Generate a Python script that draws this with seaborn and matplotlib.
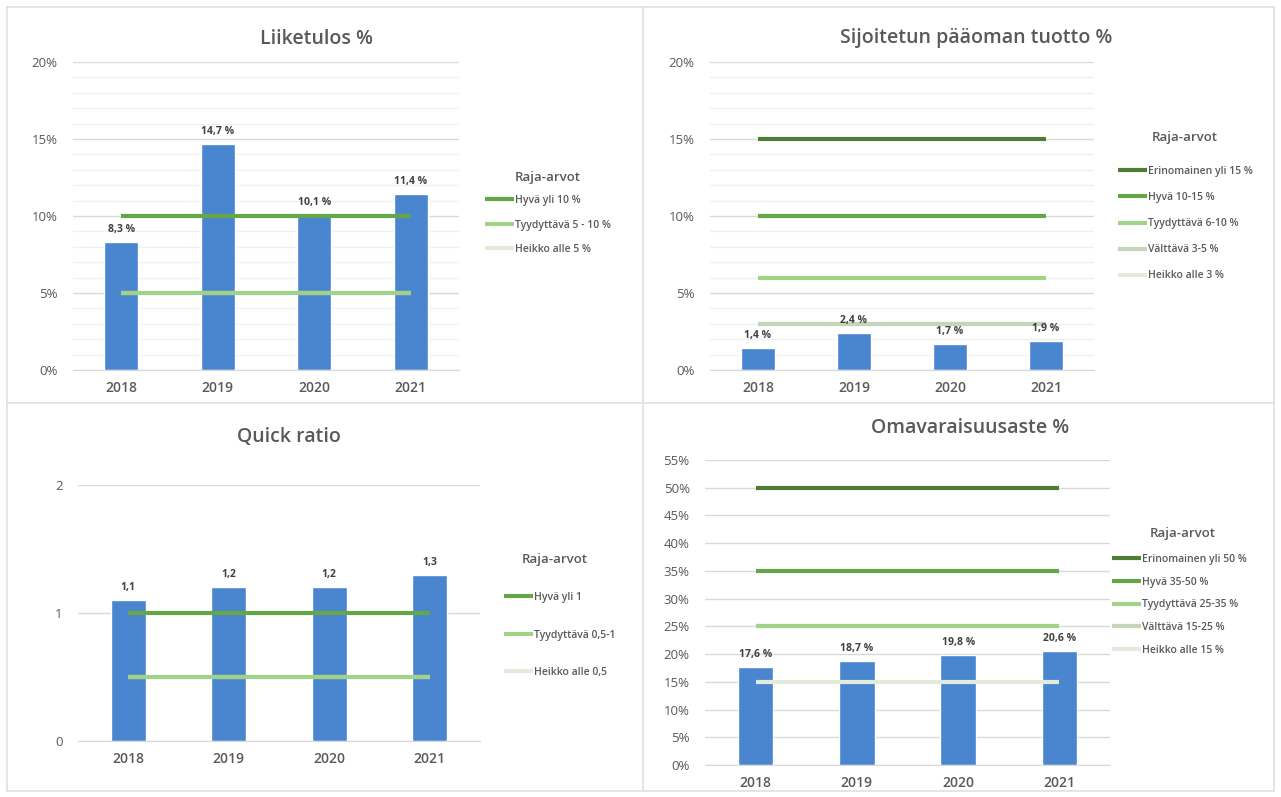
import numpy as np
import pandas as pd
import matplotlib
matplotlib.use('Agg')
from matplotlib import pyplot as plt
from matplotlib.ticker import MultipleLocator, FixedLocator, FuncFormatter
import seaborn as sns

sns.set_style('white')
plt.rcParams['font.family'] = ['Open Sans', 'DejaVu Sans']

# data
years = ['2018', '2019', '2020', '2021']
liiketulos = [8.3, 14.7, 10.1, 11.4]
sijoitettu = [1.4, 2.4, 1.7, 1.9]
quick_ratio = [1.1, 1.2, 1.2, 1.3]
omavaraisuus = [17.6, 18.7, 19.8, 20.6]

# threshold lines (raja-arvot)
liike_labels = ['Hyvä yli 10 %', 'Tyydyttävä 5 - 10 %', 'Heikko alle 5 %']
liike_levels = [10, 5, 5]
sijoit_labels = ['Erinomainen yli 15 %', 'Hyvä 10-15 %', 'Tyydyttävä 6-10 %', 'Välttävä 3-5 %', 'Heikko alle 3 %']
sijoit_levels = [15, 10, 6, 3, 3]
quick_labels = ['Hyvä yli 1', 'Tyydyttävä 0,5-1', 'Heikko alle 0,5']
quick_levels = [1, 0.5, 0.5]
omav_labels = ['Erinomainen yli 50 %', 'Hyvä 35-50 %', 'Tyydyttävä 25-35 %', 'Välttävä 15-25 %', 'Heikko alle 15 %']
omav_levels = [50, 35, 25, 25, 15]

level_colors = {'Erinomainen': '#507d35', 'Hyvä': '#65a647', 'Tyydyttävä': '#a2d287',
                'Välttävä': '#c5d5b9', 'Heikko': '#e3ebdd'}
bar_color = '#4a86cf'
text_gray = '#595959'
grid_gray = '#d9d9d9'

W, H = 1281, 797
fig = plt.figure(figsize=(W / 100, H / 100), dpi=100)


def box(l, t, r, b):
    return [l / W, 1 - b / H, (r - l) / W, (b - t) / H]


def draw_panel(rect, values, labels, levels, title, title_xy, ymax, ystep,
               pct, minor, leg_title_xy, leg_xy, leg_space):
    ax = fig.add_axes(box(*rect))
    sns.barplot(x=years, y=values, color=bar_color, saturation=1, width=0.35,
                ax=ax, zorder=2)
    n = len(years)
    # later series first so the top entries sit above
    for lab, lev in reversed(list(zip(labels, levels))):
        ax.hlines(lev, 0, n - 1, colors=level_colors[lab.split()[0]],
                  linewidth=3, label=lab, zorder=3)
    for i, v in enumerate(values):
        txt = f'{v:.1f}'.replace('.', ',') + (' %' if pct else '')
        ax.annotate(txt, (i, v), xytext=(0, 5), textcoords='offset points',
                    ha='center', va='bottom', fontsize=7.5, fontweight='bold',
                    color='#404040')
    ax.set_ylim(0, ymax)
    ax.set_xlim(-0.5, n - 0.5)
    ax.yaxis.set_major_locator(MultipleLocator(ystep))
    if pct:
        ax.yaxis.set_major_formatter(FuncFormatter(lambda v, p: f'{v:.0f}%'))
    else:
        ax.yaxis.set_major_formatter(FuncFormatter(lambda v, p: f'{v:.0f}'))
    ax.grid(axis='y', which='major', color=grid_gray, linewidth=1)
    if minor:
        ax.yaxis.set_minor_locator(MultipleLocator(1))
        ax.grid(axis='y', which='minor', color='#f0f0f0', linewidth=1)
    ax.set_axisbelow(True)
    ax.xaxis.set_minor_locator(FixedLocator(np.arange(-0.5, n, 1)))
    ax.tick_params(axis='x', which='major', length=0, pad=8, labelsize=10,
                   labelcolor=text_gray)
    ax.tick_params(axis='x', which='minor', length=4, color=grid_gray)
    ax.tick_params(axis='y', which='both', length=0, pad=11, labelsize=9.5,
                   labelcolor=text_gray)
    for lbl in ax.get_xticklabels():
        lbl.set_fontweight('semibold')
    ax.set_xlabel('')
    ax.set_ylabel('')
    for s in ['top', 'right', 'left']:
        ax.spines[s].set_visible(False)
    ax.spines['bottom'].set_color(grid_gray)
    fig.text(title_xy[0] / W, 1 - title_xy[1] / H, title, ha='center',
             va='center', fontsize=14, fontweight='semibold', color=text_gray)
    fig.text(leg_title_xy[0] / W, 1 - leg_title_xy[1] / H, 'Raja-arvot',
             ha='center', va='center', fontsize=9.5, fontweight='semibold',
             color=text_gray)
    handles, hlabels = ax.get_legend_handles_labels()
    order = [hlabels.index(l) for l in labels]
    leg = ax.legend([handles[i] for i in order], [hlabels[i] for i in order],
                    loc='upper left',
                    bbox_to_anchor=(leg_xy[0] / W, 1 - (leg_xy[1] - 6) / H),
                    bbox_transform=fig.transFigure, frameon=False, fontsize=7.5,
                    borderpad=0, borderaxespad=0,
                    handlelength=2.8, handletextpad=0.05,
                    labelspacing=leg_space)
    for t in leg.get_texts():
        t.set_color(text_gray)
        t.set_fontweight('semibold')
    return ax


draw_panel((73, 62, 459, 370), liiketulos, liike_labels, liike_levels,
           'Liiketulos %', (316, 39), 20, 5, True, True,
           (548, 177), (485, 201), 1.3)
draw_panel((710, 62, 1094, 370), sijoitettu, sijoit_labels, sijoit_levels,
           'Sijoitetun pääoman tuotto %', (976, 38), 20, 5, True, True,
           (1185, 138), (1118, 172), 1.45)
draw_panel((78, 485, 480, 741), quick_ratio, quick_labels, quick_levels,
           'Quick ratio', (289, 437), 2, 1, False, False,
           (555, 559), (504, 598), 2.55)
draw_panel((705, 460, 1110, 765), omavaraisuus, omav_labels, omav_levels,
           'Omavaraisuusaste %', (970, 428), 55, 5, True, False,
           (1183, 533), (1112, 560), 1.12)

# chart frames
frame = dict(color='#e0e0e0', linewidth=1.2, transform=fig.transFigure)
for (x0, y0, x1, y1) in [(7, 7, 1274, 7), (7, 791, 1274, 791), (7, 7, 7, 791),
                         (1274, 7, 1274, 791), (643, 7, 643, 791), (7, 403, 1274, 403)]:
    fig.add_artist(plt.Line2D([x0 / W, x1 / W], [1 - y0 / H, 1 - y1 / H], **frame))

fig.savefig('out.png', dpi=100, facecolor='white')
